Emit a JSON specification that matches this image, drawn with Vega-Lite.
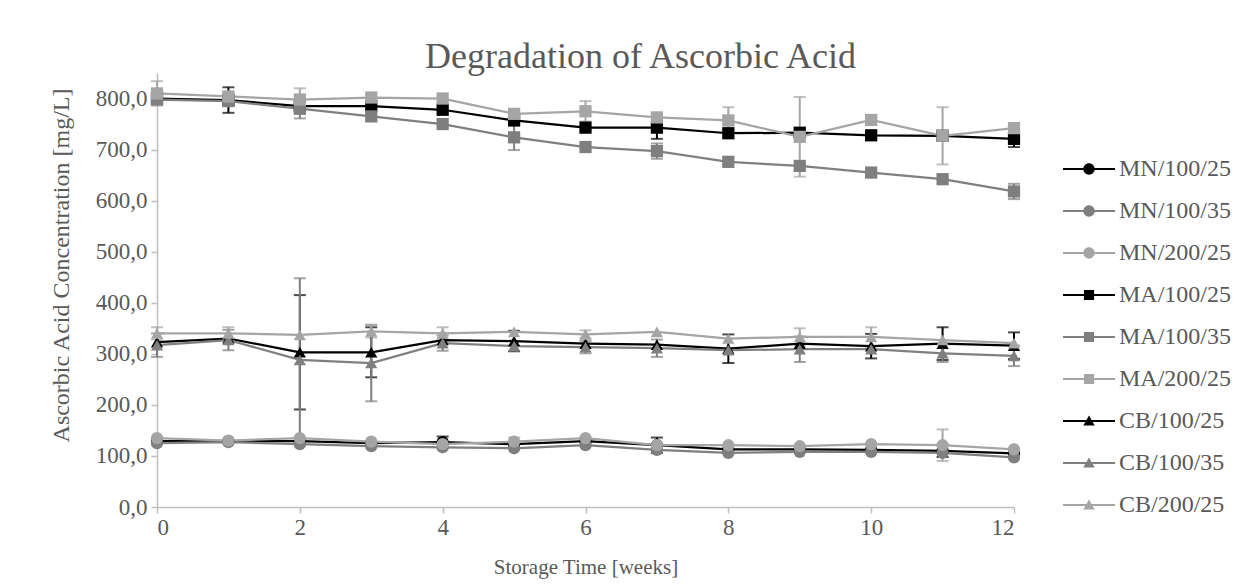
{
  "$schema": "https://vega.github.io/schema/vega-lite/v6.json",
  "width": 857,
  "height": 434,
  "autosize": {"type": "none"},
  "padding": {"left": 157, "top": 73, "right": 234, "bottom": 79},
  "background": "white",
  "config": {
    "font": "Liberation Serif",
    "view": {"stroke": null}
  },
  "title": {
    "text": "Degradation of Ascorbic Acid",
    "fontSize": 36,
    "font": "Liberation Serif",
    "fontWeight": "normal",
    "color": "#595959",
    "anchor": "middle",
    "dx": 55,
    "offset": -3
  },
  "data": {
    "values": [
      {"series": "MN/100/25", "week": 0, "value": 129},
      {"series": "MN/100/25", "week": 1, "value": 129},
      {"series": "MN/100/25", "week": 2, "value": 129},
      {"series": "MN/100/25", "week": 3, "value": 125},
      {"series": "MN/100/25", "week": 4, "value": 127, "err": 11},
      {"series": "MN/100/25", "week": 5, "value": 123},
      {"series": "MN/100/25", "week": 6, "value": 129},
      {"series": "MN/100/25", "week": 7, "value": 121, "err": 15},
      {"series": "MN/100/25", "week": 8, "value": 113},
      {"series": "MN/100/25", "week": 9, "value": 113},
      {"series": "MN/100/25", "week": 10, "value": 112},
      {"series": "MN/100/25", "week": 11, "value": 110, "err": 12},
      {"series": "MN/100/25", "week": 12, "value": 105},

      {"series": "MN/100/35", "week": 0, "value": 125},
      {"series": "MN/100/35", "week": 1, "value": 127},
      {"series": "MN/100/35", "week": 2, "value": 123},
      {"series": "MN/100/35", "week": 3, "value": 119},
      {"series": "MN/100/35", "week": 4, "value": 117},
      {"series": "MN/100/35", "week": 5, "value": 115},
      {"series": "MN/100/35", "week": 6, "value": 121},
      {"series": "MN/100/35", "week": 7, "value": 112},
      {"series": "MN/100/35", "week": 8, "value": 106},
      {"series": "MN/100/35", "week": 9, "value": 108},
      {"series": "MN/100/35", "week": 10, "value": 108},
      {"series": "MN/100/35", "week": 11, "value": 106},
      {"series": "MN/100/35", "week": 12, "value": 97},

      {"series": "MN/200/25", "week": 0, "value": 135},
      {"series": "MN/200/25", "week": 1, "value": 130},
      {"series": "MN/200/25", "week": 2, "value": 135},
      {"series": "MN/200/25", "week": 3, "value": 128},
      {"series": "MN/200/25", "week": 4, "value": 123},
      {"series": "MN/200/25", "week": 5, "value": 128, "err": 8},
      {"series": "MN/200/25", "week": 6, "value": 135},
      {"series": "MN/200/25", "week": 7, "value": 121},
      {"series": "MN/200/25", "week": 8, "value": 121},
      {"series": "MN/200/25", "week": 9, "value": 119},
      {"series": "MN/200/25", "week": 10, "value": 123},
      {"series": "MN/200/25", "week": 11, "value": 121, "err": 31},
      {"series": "MN/200/25", "week": 12, "value": 113},

      {"series": "MA/100/25", "week": 0, "value": 800},
      {"series": "MA/100/25", "week": 1, "value": 797, "err": 25},
      {"series": "MA/100/25", "week": 2, "value": 785},
      {"series": "MA/100/25", "week": 3, "value": 785},
      {"series": "MA/100/25", "week": 4, "value": 778},
      {"series": "MA/100/25", "week": 5, "value": 757},
      {"series": "MA/100/25", "week": 6, "value": 743},
      {"series": "MA/100/25", "week": 7, "value": 743, "err": 22},
      {"series": "MA/100/25", "week": 8, "value": 732},
      {"series": "MA/100/25", "week": 9, "value": 733},
      {"series": "MA/100/25", "week": 10, "value": 728},
      {"series": "MA/100/25", "week": 11, "value": 727},
      {"series": "MA/100/25", "week": 12, "value": 721, "err": 16},

      {"series": "MA/100/35", "week": 0, "value": 798},
      {"series": "MA/100/35", "week": 1, "value": 795},
      {"series": "MA/100/35", "week": 2, "value": 780, "err": 19},
      {"series": "MA/100/35", "week": 3, "value": 765},
      {"series": "MA/100/35", "week": 4, "value": 750},
      {"series": "MA/100/35", "week": 5, "value": 724, "err": 25},
      {"series": "MA/100/35", "week": 6, "value": 705},
      {"series": "MA/100/35", "week": 7, "value": 697, "err": 15},
      {"series": "MA/100/35", "week": 8, "value": 676},
      {"series": "MA/100/35", "week": 9, "value": 668},
      {"series": "MA/100/35", "week": 10, "value": 655},
      {"series": "MA/100/35", "week": 11, "value": 642},
      {"series": "MA/100/35", "week": 12, "value": 618, "err": 15},

      {"series": "MA/200/25", "week": 0, "value": 810, "err": 24},
      {"series": "MA/200/25", "week": 1, "value": 804},
      {"series": "MA/200/25", "week": 2, "value": 798, "err": 22},
      {"series": "MA/200/25", "week": 3, "value": 802},
      {"series": "MA/200/25", "week": 4, "value": 800},
      {"series": "MA/200/25", "week": 5, "value": 770},
      {"series": "MA/200/25", "week": 6, "value": 775, "err": 20},
      {"series": "MA/200/25", "week": 7, "value": 763},
      {"series": "MA/200/25", "week": 8, "value": 757, "err": 26},
      {"series": "MA/200/25", "week": 9, "value": 725, "err": 78},
      {"series": "MA/200/25", "week": 10, "value": 758},
      {"series": "MA/200/25", "week": 11, "value": 727, "err": 56},
      {"series": "MA/200/25", "week": 12, "value": 742},

      {"series": "CB/100/25", "week": 0, "value": 323},
      {"series": "CB/100/25", "week": 1, "value": 330},
      {"series": "CB/100/25", "week": 2, "value": 303, "err": 112},
      {"series": "CB/100/25", "week": 3, "value": 303, "err": 49},
      {"series": "CB/100/25", "week": 4, "value": 327},
      {"series": "CB/100/25", "week": 5, "value": 325, "err": 20},
      {"series": "CB/100/25", "week": 6, "value": 320},
      {"series": "CB/100/25", "week": 7, "value": 318},
      {"series": "CB/100/25", "week": 8, "value": 310, "err": 28},
      {"series": "CB/100/25", "week": 9, "value": 320},
      {"series": "CB/100/25", "week": 10, "value": 315, "err": 24},
      {"series": "CB/100/25", "week": 11, "value": 320, "err": 32},
      {"series": "CB/100/25", "week": 12, "value": 316, "err": 26},

      {"series": "CB/100/35", "week": 0, "value": 317, "err": 23},
      {"series": "CB/100/35", "week": 1, "value": 327, "err": 20},
      {"series": "CB/100/35", "week": 2, "value": 288, "err": 160},
      {"series": "CB/100/35", "week": 3, "value": 282, "err": 75},
      {"series": "CB/100/35", "week": 4, "value": 321, "err": 15},
      {"series": "CB/100/35", "week": 5, "value": 315},
      {"series": "CB/100/35", "week": 6, "value": 313, "err": 12},
      {"series": "CB/100/35", "week": 7, "value": 311, "err": 17},
      {"series": "CB/100/35", "week": 8, "value": 307},
      {"series": "CB/100/35", "week": 9, "value": 309, "err": 25},
      {"series": "CB/100/35", "week": 10, "value": 309},
      {"series": "CB/100/35", "week": 11, "value": 301, "err": 17},
      {"series": "CB/100/35", "week": 12, "value": 296, "err": 20},

      {"series": "CB/200/25", "week": 0, "value": 340, "err": 12},
      {"series": "CB/200/25", "week": 1, "value": 340, "err": 12},
      {"series": "CB/200/25", "week": 2, "value": 337},
      {"series": "CB/200/25", "week": 3, "value": 344, "err": 12},
      {"series": "CB/200/25", "week": 4, "value": 340, "err": 12},
      {"series": "CB/200/25", "week": 5, "value": 343},
      {"series": "CB/200/25", "week": 6, "value": 338, "err": 8},
      {"series": "CB/200/25", "week": 7, "value": 343},
      {"series": "CB/200/25", "week": 8, "value": 330},
      {"series": "CB/200/25", "week": 9, "value": 333, "err": 17},
      {"series": "CB/200/25", "week": 10, "value": 333, "err": 19},
      {"series": "CB/200/25", "week": 11, "value": 327},
      {"series": "CB/200/25", "week": 12, "value": 321}
    ]
  },
  "encoding": {
    "x": {
      "field": "week",
      "type": "quantitative",
      "scale": {"domain": [0, 12], "nice": false, "zero": false},
      "axis": {
        "title": "Storage Time [weeks]",
        "values": [0, 2, 4, 6, 8, 10, 12],
        "grid": false,
        "domainColor": "#bfbfbf",
        "domainWidth": 1.5,
        "tickColor": "#bfbfbf",
        "tickWidth": 1.5,
        "tickSize": 6,
        "labelFont": "Liberation Serif",
        "labelFontSize": 23,
        "labelColor": "#595959",
        "labelPadding": 3,
        "titleFont": "Liberation Serif",
        "titleFontSize": 21,
        "titleFontWeight": "normal",
        "titleColor": "#595959",
        "titlePadding": 17
      }
    },
    "y": {
      "field": "value",
      "type": "quantitative",
      "scale": {"domain": [0, 850], "nice": false},
      "axis": {
        "title": "Ascorbic Acid Concentration [mg/L]",
        "values": [0, 100, 200, 300, 400, 500, 600, 700, 800],
        "labelExpr": "replace(format(datum.value, '.1f'), '.', ',')",
        "grid": false,
        "domainColor": "#bfbfbf",
        "domainWidth": 1.5,
        "tickColor": "#bfbfbf",
        "tickWidth": 1.5,
        "tickSize": 6,
        "labelFont": "Liberation Serif",
        "labelFontSize": 23,
        "labelColor": "#595959",
        "labelPadding": 4,
        "titleFont": "Liberation Serif",
        "titleFontSize": 24,
        "titleFontWeight": "normal",
        "titleColor": "#595959",
        "titleY": 192,
        "titleX": -84
      }
    },
    "color": {
      "field": "series",
      "type": "nominal",
      "scale": {
        "domain": ["MN/100/25", "MN/100/35", "MN/200/25", "MA/100/25", "MA/100/35", "MA/200/25", "CB/100/25", "CB/100/35", "CB/200/25"],
        "range": ["#000000", "#7f7f7f", "#a5a5a5", "#000000", "#7f7f7f", "#a5a5a5", "#000000", "#7f7f7f", "#a5a5a5"]
      },
      "legend": {
        "title": null,
        "orient": "none",
        "legendX": 920,
        "legendY": 84,
        "padding": 0,
        "symbolSize": 144,
        "symbolStrokeWidth": 0,
        "labelFont": "Liberation Serif",
        "labelFontSize": 24,
        "labelColor": "#595959",
        "labelOffset": 18,
        "rowPadding": 18,
        "encode": {
          "symbols": {
            "update": {
              "shape": {"signal": "substring(datum.value, 0, 2) === 'MN' ? 'M-4.33,-0.17H4.33V0.17H-4.33ZM0.95,0A0.95,0.95 0 1,1 -0.95,0A0.95,0.95 0 1,1 0.95,0Z' : (substring(datum.value, 0, 2) === 'MA' ? 'M-4.33,-0.17H4.33V0.17H-4.33ZM-0.85,-0.85H0.85V0.85H-0.85Z' : 'M-4.33,-0.17H4.33V0.17H-4.33ZM0,-0.9L0.95,0.75H-0.95Z')"},
              "fill": {"signal": "scale('color', datum.value)"},
              "strokeWidth": {"value": 0},
              "opacity": {"value": 1}
            }
          }
        }
      }
    }
  },
  "layer": [
    {
      "transform": [{"filter": "datum.err > 0"}],
      "mark": {"type": "errorbar", "ticks": {"size": 12, "thickness": 2}, "thickness": 2},
      "encoding": {
        "yError": {"field": "err"}
      }
    },
    {
      "mark": {"type": "line", "strokeWidth": 2.25}
    },
    {
      "transform": [{"calculate": "split(datum.series, '/')[0]", "as": "material"}],
      "mark": {"type": "point", "filled": true, "size": 150, "opacity": 1},
      "encoding": {
        "shape": {
          "field": "material",
          "type": "nominal",
          "scale": {
            "domain": ["MN", "MA", "CB"],
            "range": ["circle", "square", "triangle-up"]
          },
          "legend": null
        }
      }
    }
  ]
}
